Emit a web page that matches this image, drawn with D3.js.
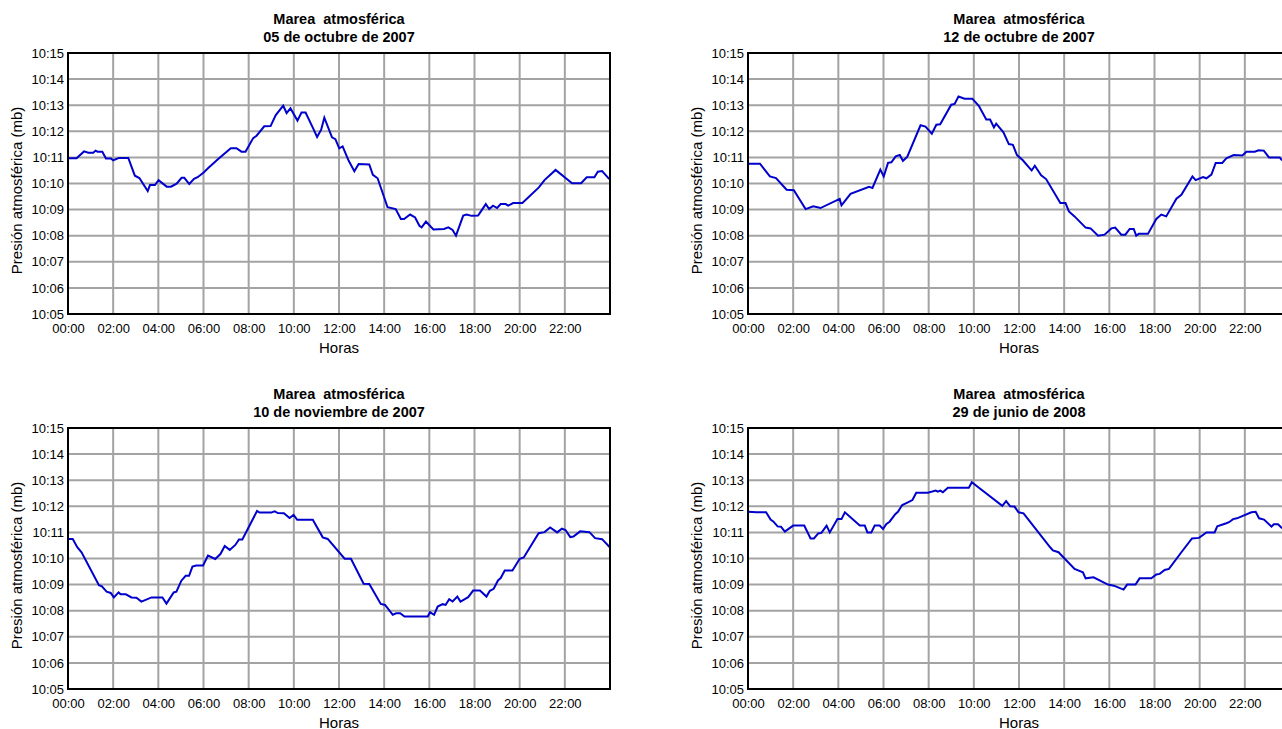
<!DOCTYPE html>
<html>
<head>
<meta charset="utf-8">
<script src="https://cdn.jsdelivr.net/npm/d3@7"></script>
<style>
  html, body { margin: 0; padding: 0; background: #fff; overflow: hidden; }
  svg { display: block; font-family: "Liberation Sans", Arial, sans-serif; }
</style>
</head>
<body>
<svg id="chart" width="1282" height="729"></svg>
<script>
// ---- Data (hour of day, pressure in mb) ----
const titles = ["05 de octubre de 2007", "12 de octubre de 2007", "10 de noviembre de 2007", "29 de junio de 2008"];
const mainTitle = "Marea\u00a0 atmosférica";
const xLabel = "Horas";
const yLabel = "Presión atmosférica (mb)";
const xTickHours = [0, 2, 4, 6, 8, 10, 12, 14, 16, 18, 20, 22];
const yTickValues = [1005, 1006, 1007, 1008, 1009, 1010, 1011, 1012, 1013, 1014, 1015];

const serie1 = [[0,1010.97],[0.38,1010.97],[0.71,1011.23],[0.9,1011.18],[1.12,1011.18],[1.22,1011.26],[1.31,1011.22],[1.52,1011.22],[1.68,1010.96],[1.9,1010.96],[2.0,1010.89],[2.26,1010.98],[2.67,1010.98],[2.96,1010.30],[3.16,1010.21],[3.53,1009.71],[3.63,1009.94],[3.85,1009.94],[4.01,1010.13],[4.37,1009.88],[4.56,1009.88],[4.81,1009.99],[5.03,1010.22],[5.15,1010.22],[5.37,1009.98],[5.58,1010.18],[5.74,1010.24],[6.02,1010.43],[6.21,1010.59],[6.65,1010.94],[7.21,1011.35],[7.46,1011.35],[7.68,1011.22],[7.86,1011.22],[8.2,1011.74],[8.35,1011.83],[8.69,1012.19],[8.97,1012.2],[9.2,1012.62],[9.53,1012.98],[9.68,1012.7],[9.85,1012.88],[10.16,1012.41],[10.34,1012.72],[10.52,1012.72],[10.86,1012.1],[11.03,1011.78],[11.21,1012.06],[11.35,1012.52],[11.69,1011.77],[11.84,1011.7],[12.01,1011.35],[12.16,1011.42],[12.43,1010.87],[12.68,1010.47],[12.87,1010.75],[13.34,1010.73],[13.5,1010.33],[13.71,1010.2],[14.15,1009.09],[14.51,1009.02],[14.74,1008.64],[14.88,1008.64],[15.15,1008.81],[15.37,1008.7],[15.56,1008.38],[15.66,1008.32],[15.85,1008.54],[16.18,1008.24],[16.65,1008.26],[16.84,1008.32],[17.03,1008.22],[17.18,1008.0],[17.5,1008.77],[17.65,1008.81],[17.87,1008.76],[18.16,1008.77],[18.5,1009.21],[18.65,1009.02],[18.82,1009.15],[19.0,1009.06],[19.16,1009.21],[19.38,1009.21],[19.49,1009.15],[19.71,1009.25],[20.12,1009.25],[20.85,1009.85],[21.1,1010.13],[21.59,1010.52],[22.32,1010.01],[22.72,1010.01],[22.97,1010.24],[23.31,1010.24],[23.46,1010.45],[23.65,1010.48],[23.97,1010.17]];

const serie2 = [[0,1010.76],[0.53,1010.76],[0.97,1010.27],[1.24,1010.21],[1.71,1009.76],[2.03,1009.74],[2.55,1009.02],[2.89,1009.13],[3.21,1009.06],[4.06,1009.41],[4.14,1009.16],[4.54,1009.6],[5.36,1009.87],[5.51,1009.83],[5.86,1010.53],[6.01,1010.27],[6.2,1010.79],[6.35,1010.81],[6.54,1011.04],[6.72,1011.09],[6.86,1010.87],[7.05,1011.02],[7.64,1012.23],[7.86,1012.18],[8.14,1011.91],[8.34,1012.25],[8.51,1012.27],[9.0,1013.02],[9.15,1013.05],[9.32,1013.33],[9.59,1013.25],[9.93,1013.25],[10.22,1012.98],[10.55,1012.45],[10.72,1012.45],[10.89,1012.15],[10.99,1012.29],[11.31,1011.96],[11.55,1011.51],[11.73,1011.48],[11.91,1011.09],[12.17,1010.89],[12.47,1010.59],[12.56,1010.5],[12.7,1010.68],[12.98,1010.31],[13.2,1010.17],[13.83,1009.25],[14.06,1009.25],[14.21,1008.93],[14.46,1008.74],[14.95,1008.31],[15.17,1008.28],[15.5,1008.0],[15.79,1008.04],[16.09,1008.28],[16.26,1008.31],[16.53,1008.04],[16.71,1008.04],[16.9,1008.26],[17.08,1008.26],[17.19,1008.0],[17.3,1008.07],[17.71,1008.07],[18.08,1008.64],[18.3,1008.81],[18.52,1008.74],[18.97,1009.42],[19.19,1009.57],[19.68,1010.27],[19.82,1010.13],[20.15,1010.25],[20.3,1010.2],[20.52,1010.34],[20.71,1010.79],[21.0,1010.79],[21.18,1010.96],[21.51,1011.09],[21.89,1011.07],[22.07,1011.22],[22.44,1011.22],[22.61,1011.27],[22.84,1011.26],[23.07,1011.0],[23.54,1011.0],[23.63,1010.91],[24.0,1010.85]];

const serie3 = [[0,1010.75],[0.21,1010.75],[0.41,1010.43],[0.6,1010.24],[1.37,1008.98],[1.5,1008.93],[1.71,1008.73],[1.89,1008.68],[2.03,1008.51],[2.24,1008.7],[2.33,1008.63],[2.56,1008.63],[2.81,1008.51],[3.03,1008.5],[3.25,1008.35],[3.7,1008.51],[4.18,1008.51],[4.36,1008.27],[4.68,1008.7],[4.8,1008.73],[5.02,1009.15],[5.21,1009.34],[5.36,1009.34],[5.51,1009.69],[5.68,1009.73],[5.98,1009.73],[6.2,1010.11],[6.52,1009.98],[6.75,1010.17],[6.94,1010.48],[7.16,1010.33],[7.41,1010.52],[7.57,1010.73],[7.72,1010.73],[8.37,1011.82],[8.48,1011.76],[9.0,1011.76],[9.15,1011.81],[9.29,1011.74],[9.56,1011.73],[9.81,1011.55],[9.99,1011.67],[10.15,1011.48],[10.84,1011.48],[11.28,1010.81],[11.5,1010.75],[12.25,1009.99],[12.53,1009.99],[13.09,1009.03],[13.34,1009.02],[13.85,1008.26],[14.04,1008.22],[14.38,1007.84],[14.53,1007.9],[14.71,1007.9],[14.9,1007.78],[15.93,1007.78],[16.03,1007.94],[16.21,1007.84],[16.37,1008.16],[16.59,1008.25],[16.72,1008.22],[16.88,1008.44],[17.03,1008.35],[17.24,1008.54],[17.38,1008.35],[17.72,1008.52],[17.94,1008.77],[18.24,1008.77],[18.53,1008.54],[18.68,1008.76],[18.85,1008.84],[19.04,1009.16],[19.16,1009.25],[19.34,1009.54],[19.68,1009.54],[20.0,1009.99],[20.18,1010.04],[20.84,1010.97],[21.1,1011.01],[21.35,1011.19],[21.66,1011.0],[21.87,1011.14],[22.03,1011.09],[22.24,1010.82],[22.38,1010.84],[22.68,1011.04],[23.09,1011.01],[23.34,1010.78],[23.65,1010.74],[24.0,1010.42]];

const serie4 = [[0,1011.79],[0.38,1011.77],[0.8,1011.77],[1.0,1011.49],[1.12,1011.42],[1.31,1011.23],[1.46,1011.22],[1.63,1011.03],[2.0,1011.26],[2.49,1011.26],[2.77,1010.77],[2.92,1010.77],[3.11,1010.96],[3.25,1010.98],[3.48,1011.26],[3.62,1011.0],[3.96,1011.51],[4.14,1011.51],[4.29,1011.77],[4.95,1011.26],[5.17,1011.26],[5.29,1011.0],[5.46,1011.0],[5.61,1011.26],[5.83,1011.26],[5.98,1011.13],[6.13,1011.32],[6.27,1011.41],[6.52,1011.7],[6.64,1011.79],[6.83,1012.05],[7.08,1012.15],[7.28,1012.24],[7.45,1012.52],[7.97,1012.52],[8.31,1012.6],[8.41,1012.56],[8.51,1012.6],[8.63,1012.54],[8.85,1012.71],[9.78,1012.71],[9.91,1012.92],[11.26,1012.02],[11.43,1012.2],[11.61,1012.0],[11.8,1011.99],[11.98,1011.77],[12.2,1011.73],[13.38,1010.43],[13.5,1010.31],[13.75,1010.24],[14.46,1009.6],[14.83,1009.47],[14.95,1009.24],[15.3,1009.28],[15.94,1009.0],[16.2,1008.96],[16.63,1008.81],[16.79,1009.0],[17.16,1009.0],[17.34,1009.24],[17.86,1009.24],[18.08,1009.39],[18.23,1009.41],[18.45,1009.56],[18.64,1009.6],[19.19,1010.24],[19.66,1010.77],[19.97,1010.79],[20.3,1011.0],[20.66,1011.0],[20.78,1011.23],[21.18,1011.35],[21.3,1011.39],[21.48,1011.51],[21.65,1011.54],[22.29,1011.77],[22.48,1011.79],[22.63,1011.54],[22.85,1011.49],[23.18,1011.22],[23.28,1011.31],[23.47,1011.31],[23.63,1011.18],[24.0,1011.12]];

const series = [serie1, serie2, serie3, serie4];

// ---- Layout ----
const plotW = 542, plotH = 261;
const origins = [[68, 53], [748, 53], [68, 428], [748, 428]];

const svg = d3.select("#chart");
svg.append("rect").attr("width", 1282).attr("height", 729).attr("fill", "#fff");

const fmtHour = h => String(h).padStart(2, "0") + ":00";
const fmtP = v => "10:" + String(v - 1000).padStart(2, "0");

series.forEach((data, i) => {
  const [x0, y0] = origins[i];
  const x = d3.scaleLinear().domain([0, 24]).range([x0, x0 + plotW]);
  const y = d3.scaleLinear().domain([1005, 1015]).range([y0 + plotH, y0]);
  const g = svg.append("g");

  // grid
  g.append("g").selectAll("line.v").data(d3.range(2, 24, 2)).join("line")
    .attr("x1", d => x(d)).attr("x2", d => x(d))
    .attr("y1", y0).attr("y2", y0 + plotH)
    .attr("stroke", "#a3a3a3").attr("stroke-width", 2);
  g.append("g").selectAll("line.h").data(d3.range(1006, 1015)).join("line")
    .attr("x1", x0).attr("x2", x0 + plotW)
    .attr("y1", d => y(d)).attr("y2", d => y(d))
    .attr("stroke", "#a3a3a3").attr("stroke-width", 2);

  // line
  const line = d3.line().x(d => x(d[0])).y(d => y(d[1]));
  g.append("path").datum(data).attr("d", line)
    .attr("fill", "none").attr("stroke", "#0000cc").attr("stroke-width", 2)
    .attr("stroke-linejoin", "miter");

  // border
  g.append("rect").attr("x", x0).attr("y", y0).attr("width", plotW).attr("height", plotH)
    .attr("fill", "none").attr("stroke", "#000").attr("stroke-width", 2);

  // axes
  const xa = g.append("g").attr("transform", `translate(0,${y0 + plotH})`)
    .call(d3.axisBottom(x).tickValues(xTickHours).tickFormat(fmtHour).tickSize(0).tickPadding(10));
  xa.select(".domain").remove();
  xa.selectAll("text").attr("font-size", 13).attr("fill", "#000")
    .attr("font-family", "'Liberation Sans', Arial, sans-serif");

  const ya = g.append("g").attr("transform", `translate(${x0},0)`)
    .call(d3.axisLeft(y).tickValues(yTickValues).tickFormat(fmtP).tickSize(0).tickPadding(4));
  ya.select(".domain").remove();
  ya.selectAll("text").attr("font-size", 13).attr("fill", "#000")
    .attr("font-family", "'Liberation Sans', Arial, sans-serif");

  // titles
  const cx = x0 + plotW / 2;
  g.append("text").attr("x", cx).attr("y", y0 - 29).attr("text-anchor", "middle")
    .attr("font-size", 14.5).attr("font-weight", "bold").text(mainTitle);
  g.append("text").attr("x", cx).attr("y", y0 - 11.5).attr("text-anchor", "middle")
    .attr("font-size", 14.5).attr("font-weight", "bold").text(titles[i]);

  // axis labels
  g.append("text").attr("x", cx).attr("y", y0 + plotH + 38.5).attr("text-anchor", "middle")
    .attr("font-size", 15).text(xLabel);
  g.append("text").attr("transform", `translate(${x0 - 46},${y0 + 137.5}) rotate(-90)`)
    .attr("text-anchor", "middle").attr("font-size", 15).text(yLabel);
});
</script>
</body>
</html>
